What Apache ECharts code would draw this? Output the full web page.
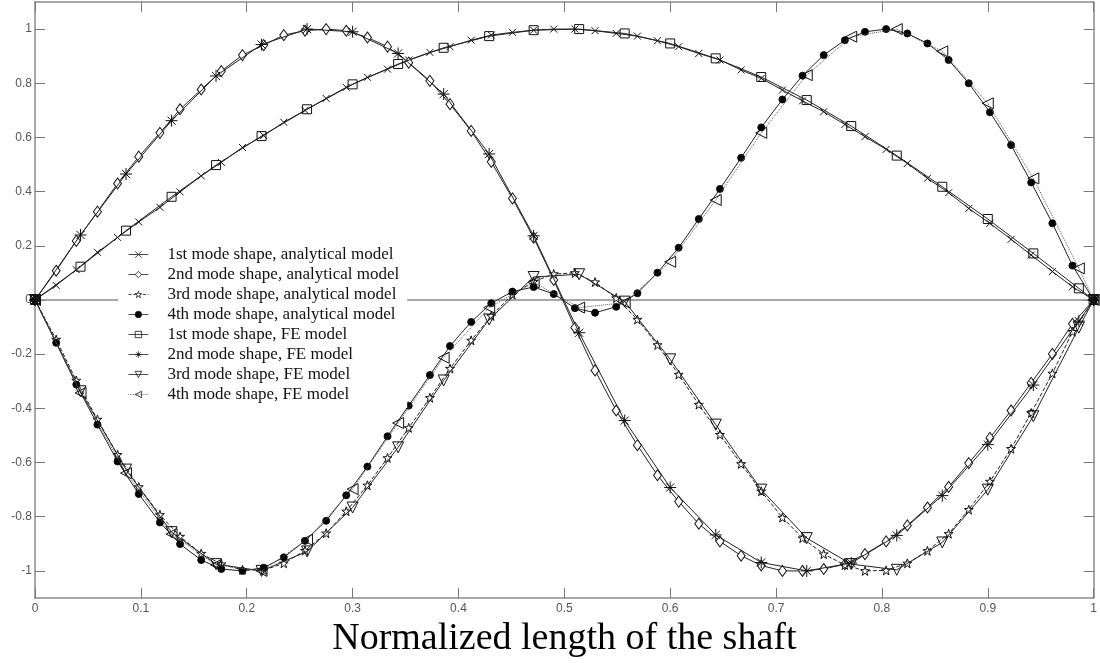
<!DOCTYPE html>
<html>
<head>
<meta charset="utf-8">
<script src="https://cdn.jsdelivr.net/npm/echarts@6/dist/echarts.min.js"></script>
<style>
  html, body { margin: 0; padding: 0; background: #fff; }
  #chart { width: 1100px; height: 663px; }
</style>
</head>
<body>
<div id="chart"></div>
<script>
// Sample positions along the shaft (analytical solution)
const xAnalytical = [0, 0.02, 0.039, 0.059, 0.078, 0.098, 0.118, 0.137, 0.157, 0.176,
  0.196, 0.216, 0.235, 0.255, 0.275, 0.294, 0.314, 0.333, 0.353, 0.373,
  0.392, 0.412, 0.431, 0.451, 0.471, 0.49, 0.51, 0.529, 0.549, 0.569,
  0.588, 0.608, 0.627, 0.647, 0.667, 0.686, 0.706, 0.725, 0.745, 0.765,
  0.784, 0.804, 0.824, 0.843, 0.863, 0.882, 0.902, 0.922, 0.941, 0.961,
  0.98, 1];

const mode1Analytical = [0, 0.054, 0.112, 0.176, 0.231, 0.288, 0.342, 0.399, 0.458, 0.508,
  0.563, 0.607, 0.656, 0.70, 0.744, 0.785, 0.822, 0.852, 0.886, 0.914,
  0.935, 0.959, 0.978, 0.988, 0.996, 1.0, 1.0, 0.994, 0.984, 0.974,
  0.957, 0.935, 0.91, 0.886, 0.849, 0.818, 0.775, 0.735, 0.695, 0.648,
  0.603, 0.556, 0.504, 0.449, 0.396, 0.338, 0.283, 0.224, 0.166, 0.105,
  0.049, 0];

const mode2Analytical = [0, 0.108, 0.218, 0.326, 0.43, 0.529, 0.617, 0.704, 0.777, 0.845,
  0.904, 0.941, 0.978, 0.994, 1.0, 0.994, 0.969, 0.935, 0.876, 0.809,
  0.723, 0.624, 0.51, 0.375, 0.23, 0.074, -0.102, -0.26, -0.408, -0.536,
  -0.647, -0.744, -0.826, -0.891, -0.944, -0.98, -1.0, -1.0, -0.993, -0.975,
  -0.938, -0.891, -0.832, -0.766, -0.69, -0.602, -0.509, -0.408, -0.306, -0.199,
  -0.088, 0];

const mode3Analytical = [0, -0.146, -0.297, -0.441, -0.571, -0.69, -0.793, -0.873, -0.936, -0.975,
  -0.996, -0.997, -0.972, -0.925, -0.861, -0.78, -0.684, -0.583, -0.472, -0.361,
  -0.253, -0.149, -0.059, 0.02, 0.068, 0.096, 0.1, 0.066, 0.007, -0.072,
  -0.166, -0.275, -0.386, -0.497, -0.605, -0.706, -0.803, -0.879, -0.938, -0.978,
  -1.0, -0.998, -0.972, -0.926, -0.863, -0.774, -0.67, -0.549, -0.417, -0.271,
  -0.117, 0];

const mode4Analytical = [0, -0.158, -0.312, -0.46, -0.596, -0.716, -0.821, -0.901, -0.96, -0.993,
  -1.0, -0.988, -0.95, -0.889, -0.815, -0.721, -0.615, -0.503, -0.39, -0.277,
  -0.17, -0.081, -0.012, 0.031, 0.048, 0.022, -0.03, -0.047, -0.025, 0.025,
  0.101, 0.193, 0.299, 0.41, 0.525, 0.637, 0.74, 0.828, 0.904, 0.959,
  0.99, 1.0, 0.984, 0.947, 0.886, 0.8, 0.693, 0.572, 0.434, 0.283,
  0.127, 0];

// Node positions of the finite element mesh
const xFE = [0, 0.043, 0.086, 0.129, 0.171, 0.214, 0.257, 0.3, 0.343, 0.386,
  0.429, 0.471, 0.514, 0.557, 0.6, 0.643, 0.686, 0.729, 0.771, 0.814,
  0.857, 0.9, 0.943, 0.986, 1];

const mode1FE = [0, 0.123, 0.256, 0.381, 0.498, 0.605, 0.704, 0.796, 0.871, 0.931,
  0.974, 0.996, 1.0, 0.984, 0.947, 0.892, 0.823, 0.738, 0.642, 0.533,
  0.418, 0.299, 0.172, 0.043, 0];

const mode2FE = [0, 0.24, 0.465, 0.662, 0.827, 0.943, 1.0, 0.99, 0.91, 0.76,
  0.539, 0.237, -0.121, -0.445, -0.692, -0.867, -0.969, -1.0, -0.971, -0.869,
  -0.722, -0.534, -0.314, -0.078, 0];

const mode3FE = [0, -0.337, -0.626, -0.857, -0.975, -1.0, -0.928, -0.766, -0.544, -0.297,
  -0.072, 0.085, 0.095, -0.006, -0.219, -0.46, -0.7, -0.879, -0.975, -0.996,
  -0.895, -0.7, -0.429, -0.102, 0];

const mode4FE = [0, -0.343, -0.639, -0.864, -0.978, -1.0, -0.885, -0.698, -0.454, -0.213,
  -0.028, 0.065, -0.028, -0.01, 0.141, 0.369, 0.617, 0.83, 0.972, 1.0,
  0.918, 0.726, 0.449, 0.117, 0];

// Axis ticks
const xTicks = [0, 0.1, 0.2, 0.3, 0.4, 0.5, 0.6, 0.7, 0.8, 0.9, 1];
const yTicks = [-1, -0.8, -0.6, -0.4, -0.2, 0, 0.2, 0.4, 0.6, 0.8, 1];

const seriesNames = [
  '1st mode shape, analytical model',
  '2nd mode shape, analytical model',
  '3rd mode shape, analytical model',
  '4th mode shape, analytical model',
  '1st mode shape, FE model',
  '2nd mode shape, FE model',
  '3rd mode shape, FE model',
  '4th mode shape, FE model'
];

const xLabel = 'Normalized length of the shaft';

// Marker outlines
const SYM_CROSS = 'path://M0,0L10,10M10,0L0,10';
const SYM_STAR = 'path://M5,0L6.2,3.7L10,3.7L6.9,6L8.1,10L5,7.6L1.9,10L3.1,6L0,3.7L3.8,3.7Z';
const SYM_ASTER = 'path://M5,0L5,10M0,5L10,5M1.6,1.6L8.4,8.4M8.4,1.6L1.6,8.4';
const SYM_TRI_DOWN = 'path://M0,0L10,0L5,9Z';
const SYM_TRI_LEFT = 'path://M9,0L9,10L0,5Z';

function pairs(xs, ys) {
  return xs.map((x, i) => [x, ys[i]]);
}

function curve(name, xs, ys, symbol, size, fill, lineType, lineColor, z) {
  return {
    name: name,
    type: 'line',
    data: pairs(xs, ys),
    symbol: symbol,
    symbolSize: size,
    showSymbol: true,
    z: z,
    itemStyle: { color: fill, borderColor: '#111', borderWidth: 1 },
    lineStyle: { color: lineColor, width: 1, type: lineType },
    emphasis: { disabled: true },
    silent: true
  };
}

const series = [
  curve(seriesNames[0], xAnalytical, mode1Analytical, SYM_CROSS, 7, 'none', 'solid', '#222', 3),
  curve(seriesNames[1], xAnalytical, mode2Analytical, 'diamond', [8, 11], '#fff', 'solid', '#222', 3),
  curve(seriesNames[2], xAnalytical, mode3Analytical, SYM_STAR, 9, '#fff', 'dashed', '#222', 3),
  curve(seriesNames[3], xAnalytical, mode4Analytical, 'circle', 7, '#000', 'solid', '#222', 3),
  curve(seriesNames[4], xFE, mode1FE, 'rect', 9, 'none', 'solid', '#222', 4),
  curve(seriesNames[5], xFE, mode2FE, SYM_ASTER, 12, 'none', 'solid', '#222', 4),
  curve(seriesNames[6], xFE, mode3FE, SYM_TRI_DOWN, 11, 'none', 'solid', '#222', 4),
  curve(seriesNames[7], xFE, mode4FE, SYM_TRI_LEFT, 11, 'none', 'dotted', '#555', 4)
];

// Horizontal reference line at zero deflection
series[0].markLine = {
  silent: true,
  symbol: 'none',
  z: 1,
  label: { show: false },
  lineStyle: { color: '#888', width: 1.5, type: 'solid' },
  data: [{ yAxis: 0 }]
};

const axisGrey = '#8a8a8a';
const tickStyle = { color: '#777', width: 1 };
const labelStyle = { color: '#555', fontSize: 12, fontFamily: 'Liberation Sans' };

const chart = echarts.init(document.getElementById('chart'), null, { renderer: 'canvas' });
chart.setOption({
  animation: false,
  backgroundColor: '#fff',
  grid: { left: 35, right: 3, top: 2, bottom: 65, containLabel: false },
  legend: {
    data: seriesNames,
    orient: 'vertical',
    left: 118,
    top: 241,
    z: 10,
    backgroundColor: '#fff',
    padding: [5, 8, 5, 10],
    itemGap: 3,
    itemWidth: 20,
    itemHeight: 8,
    selectedMode: false,
    itemStyle: { borderWidth: 0.8 },
    lineStyle: { width: 0.8 },
    textStyle: {
      fontFamily: 'Liberation Serif',
      fontSize: 17,
      lineHeight: 17,
      color: '#111',
      padding: [0, 0, 0, 14]
    }
  },
  xAxis: [
    {
      type: 'value', min: 0, max: 1, interval: 0.1, position: 'bottom',
      axisLine: { onZero: false, lineStyle: { color: axisGrey, width: 1.5 } },
      axisTick: { inside: true, length: 10, lineStyle: tickStyle },
      axisLabel: Object.assign({ margin: 5, formatter: v => String(+v.toFixed(1)) }, labelStyle),
      splitLine: { show: false },
      name: xLabel,
      nameLocation: 'middle',
      nameGap: 14,
      nameTextStyle: { fontFamily: 'Liberation Serif', fontSize: 38, color: '#000', verticalAlign: 'top' }
    },
    {
      type: 'value', min: 0, max: 1, interval: 0.1, position: 'top',
      axisLine: { onZero: false, lineStyle: { color: axisGrey, width: 1.5 } },
      axisTick: { inside: true, length: 10, lineStyle: tickStyle },
      axisLabel: { show: false },
      splitLine: { show: false }
    }
  ],
  yAxis: [
    {
      type: 'value', min: -1.1, max: 1.1, position: 'left',
      axisLine: { show: true, onZero: false, lineStyle: { color: axisGrey, width: 1.5 } },
      axisTick: { show: true, inside: true, length: 10, lineStyle: tickStyle, customValues: yTicks },
      axisLabel: Object.assign({ margin: 3, customValues: yTicks, formatter: v => String(+(+v).toFixed(1)) }, labelStyle),
      splitLine: { show: false }
    },
    {
      type: 'value', min: -1.1, max: 1.1, position: 'right',
      axisLine: { show: true, onZero: false, lineStyle: { color: axisGrey, width: 1.5 } },
      axisTick: { show: true, inside: true, length: 10, lineStyle: tickStyle, customValues: yTicks },
      axisLabel: { show: false },
      splitLine: { show: false }
    }
  ],
  series: series
});
</script>
</body>
</html>
